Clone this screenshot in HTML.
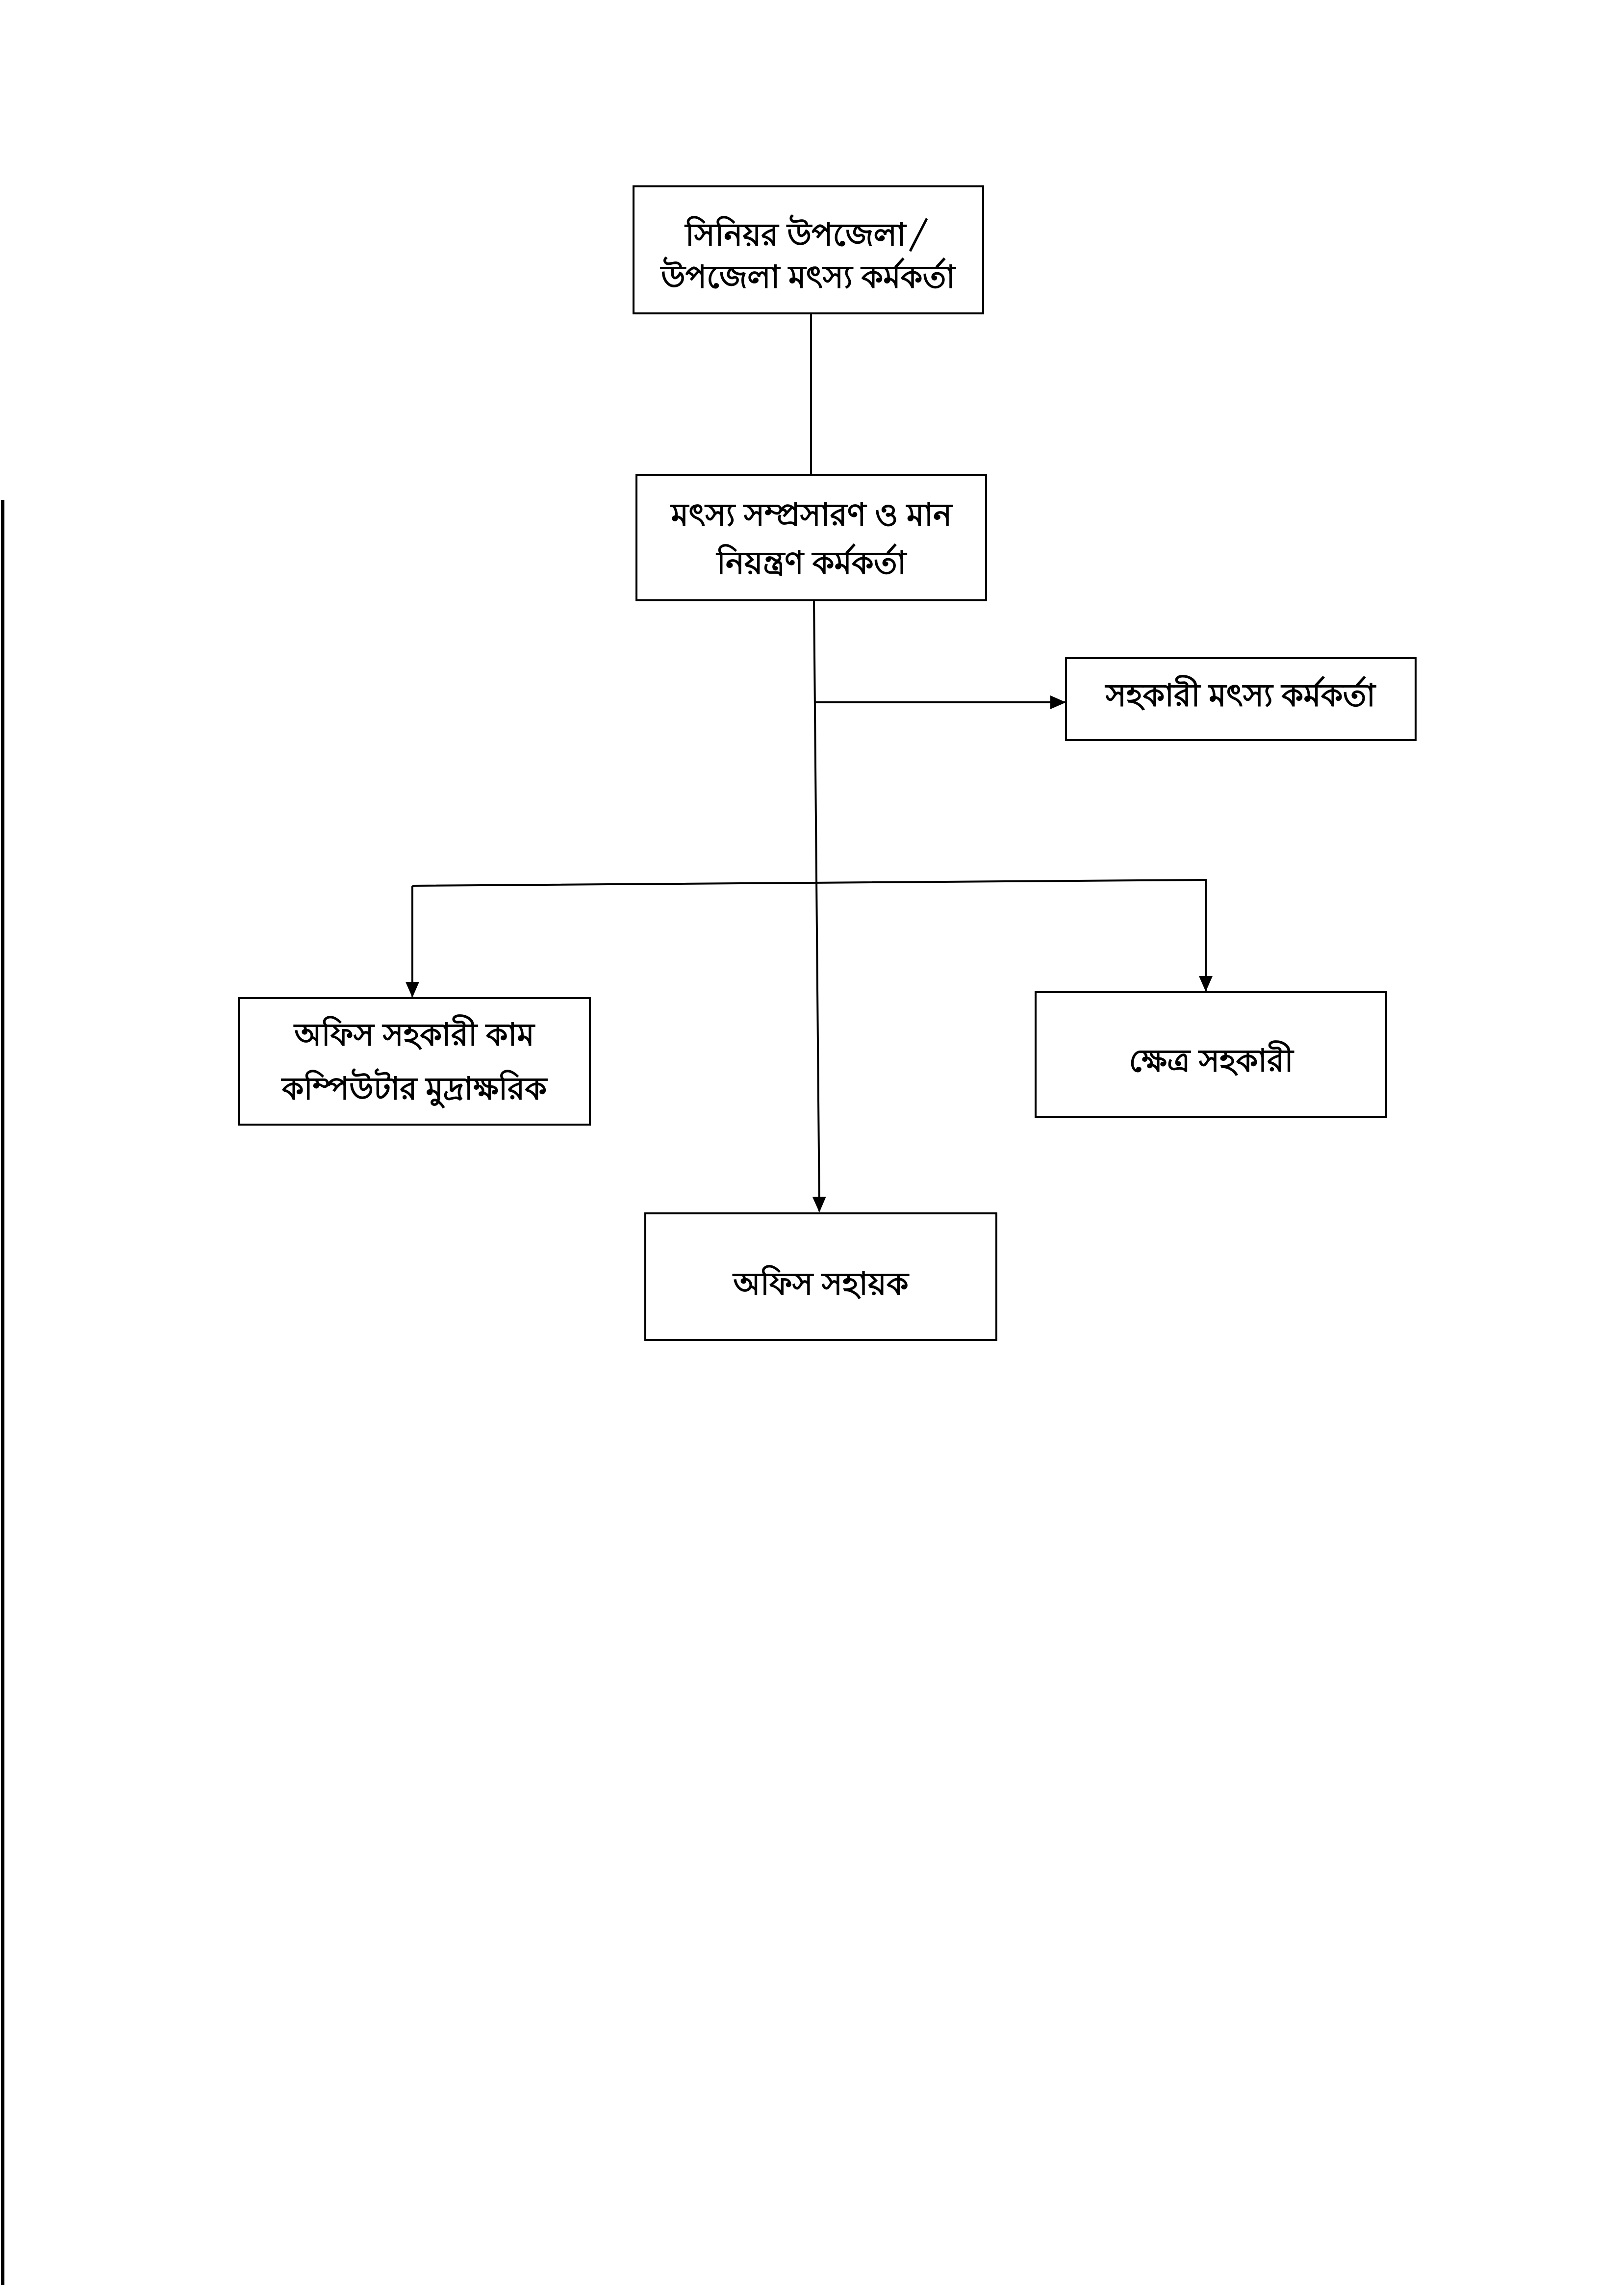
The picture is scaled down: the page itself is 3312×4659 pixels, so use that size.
<!DOCTYPE html>
<html><head><meta charset="utf-8"><style>
html,body{margin:0;padding:0;background:#fff;}
svg{display:block;}
text{font-family:"Lohit Bengali","Noto Sans Bengali","FreeSans","Liberation Sans",sans-serif;font-size:64px;font-weight:bold;fill:#000;text-anchor:middle;dominant-baseline:middle;}
</style></head><body>
<svg width="3312" height="4659" viewBox="0 0 3312 4659" xmlns="http://www.w3.org/2000/svg">
<defs>
<marker id="b" markerWidth="34" markerHeight="34" refX="30" refY="17" orient="auto" markerUnits="userSpaceOnUse"><path d="M0,3 L32,17 L0,31 z" fill="#000"/></marker></defs>
<rect x="2" y="1020" width="7" height="3639" fill="#000"/>
<g fill="none" stroke="#000" stroke-width="4">
<rect x="1292" y="380" width="713" height="259"/>
<rect x="1298" y="968" width="713" height="256"/>
<rect x="2174" y="1342" width="713" height="167"/>
<rect x="487" y="2035" width="716" height="258"/>
<rect x="2112" y="2023" width="715" height="255"/>
<rect x="1316" y="2474" width="716" height="258"/>
<line x1="1654" y1="639" x2="1654" y2="968"/>
<line x1="1660" y1="1224" x2="1671" y2="2470" marker-end="url(#b)"/>
<line x1="1660" y1="1432" x2="2172" y2="1432" marker-end="url(#b)"/>
<polyline points="841,1806 2459,1794 2459,2020" marker-end="url(#b)"/>
<line x1="841" y1="1806" x2="841" y2="2032" marker-end="url(#b)"/>
</g>
<text x="1648" y="469">সিনিয়র উপজেলা/</text>
<text x="1648" y="555">উপজেলা মৎস্য কর্মকর্তা</text>
<text x="1655" y="1040">মৎস্য সম্প্রসারণ ও মান</text>
<text x="1655" y="1138">নিয়ন্ত্রণ কর্মকর্তা</text>
<text x="2530" y="1408">সহকারী মৎস্য কর্মকর্তা</text>
<text x="845" y="2100">অফিস সহকারী কাম</text>
<text x="845" y="2210">কম্পিউটার মুদ্রাক্ষরিক</text>
<text x="2470" y="2153">ক্ষেত্র সহকারী</text>
<text x="1674" y="2608">অফিস সহায়ক</text>
</svg>
</body></html>
